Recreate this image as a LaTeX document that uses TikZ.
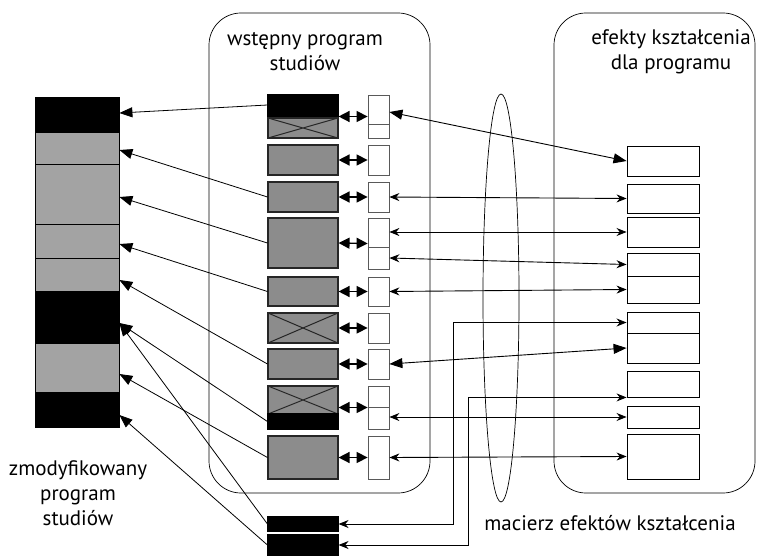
\documentclass[tikz,border=0pt]{standalone}
\usepackage{fontspec}
\setmainfont{PT Sans}
\usetikzlibrary{arrows.meta, positioning, shapes.geometric, calc}

\definecolor{stackgray}{gray}{0.64}
\definecolor{boxgray}{gray}{0.55}

\begin{document}
\begin{tikzpicture}[x=1pt, y=-1pt,
  stackbk/.style={draw, fill=black, minimum width=84pt, inner sep=0pt, line width=0.8pt},
  stackgr/.style={stackbk, fill=stackgray},
  prgbox/.style={draw=black!85, fill=boxgray, minimum width=70pt, inner sep=0pt, line width=1.1pt},
  prgbk/.style={prgbox, fill=black, draw=black},
  crossed/.style={path picture={
      \draw[line width=1pt] (path picture bounding box.south west) -- (path picture bounding box.north east)
            (path picture bounding box.north west) -- (path picture bounding box.south east);}},
  slot/.style={draw=black!65, fill=white, minimum width=21pt, inner sep=0pt, line width=0.8pt},
  outc/.style={draw, fill=white, minimum width=72pt, inner sep=0pt, line width=0.9pt},
  frame/.style={draw, rounded corners=32pt, line width=0.7pt, inner sep=0pt},
  lbl/.style={font=\fontsize{21}{25}\selectfont, align=center},
  toleft/.style={-{Triangle[length=13pt, width=10pt]}, line width=0.8pt},
  dbl/.style={{Triangle[length=11pt, width=11pt]}-{Triangle[length=11pt, width=11pt]}, line width=1.4pt},
  link/.style={{Stealth[length=10pt, width=8pt]}-{Stealth[length=10pt, width=8pt]}, line width=0.9pt},
  linkbig/.style={{Triangle[length=13pt, width=10pt]}-{Triangle[length=13pt, width=10pt]}, line width=0.9pt},
]
\useasboundingbox (0,0) rectangle (767,556);

% --- Frames and matrix ellipse ---
\node[frame, minimum width=221pt, minimum height=480pt] (wst) at (319.5,253) {};
\node[frame, minimum width=201pt, minimum height=480pt] (efk) at (654.5,253) {};
\node[draw, ellipse, line width=0.7pt, minimum width=36pt, minimum height=408pt, inner sep=0pt] (mac) at (501,298) {};

% --- Titles ---
\node[lbl] (twst) at (305,52) {wstępny program\\studiów};
\node[lbl] (tefk) at (671,52) {efekty kształcenia\\dla programu};
\node[lbl] (tzmo) at (78,493) {zmodyfikowany\\program\\studiów};
\node[lbl] (tmac) at (610,523) {macierz efektów kształcenia};

% --- Modified programme (left stack) ---
\node[stackbk, minimum height=35pt] (k1) at (77,114.5) {};
\node[stackgr, minimum height=32pt] (k2) at (77,148) {};
\node[stackgr, minimum height=60pt] (k3) at (77,194) {};
\node[stackgr, minimum height=34pt] (k4) at (77,241) {};
\node[stackgr, minimum height=33pt] (k5) at (77,274.5) {};
\node[stackbk, minimum height=52pt] (k6) at (77,317) {};
\node[stackgr, minimum height=49pt] (k7) at (77,367.5) {};
\node[stackbk, minimum height=35pt] (k8) at (77,409.5) {};

% --- Initial programme (middle column) ---
\node[prgbk, minimum height=23pt] (m1t) at (303,106.5) {};
\node[prgbox, crossed, minimum height=20pt] (m1) at (303,128) {};
\node[prgbox, minimum height=30pt] (m2) at (303,160) {};
\node[prgbox, minimum height=30pt] (m3) at (303,197) {};
\node[prgbox, minimum height=50pt] (m4) at (303,243) {};
\node[prgbox, minimum height=29pt] (m5) at (303,291.5) {};
\node[prgbox, crossed, minimum height=30pt] (m6) at (303,328) {};
\node[prgbox, minimum height=30pt] (m7) at (303,364) {};
\node[prgbox, crossed, minimum height=28pt] (m8) at (303,400) {};
\node[prgbk, minimum height=15pt] (m8b) at (303,421.5) {};
\node[prgbox, minimum height=43pt] (m9) at (303,457.5) {};
\node[prgbk, minimum height=14pt] (b1) at (303,524) {};
\node[prgbk, minimum height=20pt] (b2) at (303,545) {};

% --- Slots beside the programme ---
\node[slot, minimum height=43pt] (s1) at (378.5,116.5) {};
\node[slot, minimum height=30pt] (s2) at (378.5,160) {};
\node[slot, minimum height=30pt] (s3) at (378.5,197) {};
\node[slot, minimum height=51pt] (s4) at (378.5,243.5) {};
\node[slot, minimum height=29pt] (s5) at (378.5,291.5) {};
\node[slot, minimum height=30pt] (s6) at (378.5,328) {};
\node[slot, minimum height=30pt] (s7) at (378.5,364) {};
\node[slot, minimum height=43pt] (s8) at (378.5,407.5) {};
\node[slot, minimum height=43pt] (s9) at (378.5,457.5) {};
\draw[black!65, line width=0.8pt] (s1.west |- 0,124) -- (s1.east |- 0,124);
\draw[black!65, line width=0.8pt] (s4.west |- 0,247) -- (s4.east |- 0,247);
\draw[black!65, line width=0.8pt] (s8.west |- 0,407) -- (s8.east |- 0,407);

% --- Learning outcomes (right column) ---
\node[outc, minimum height=30pt] (r1) at (663,161) {};
\node[outc, minimum height=29pt] (r2) at (663,198.5) {};
\node[outc, minimum height=30pt] (r3) at (663,232) {};
\node[outc, minimum height=23pt] (r4) at (663,264.5) {};
\node[outc, minimum height=27pt] (r5) at (663,289.5) {};
\node[outc, minimum height=21pt] (r6) at (663,322.5) {};
\node[outc, minimum height=30pt] (r7) at (663,348) {};
\node[outc, minimum height=26pt] (r8) at (663,384) {};
\node[outc, minimum height=22pt] (r9) at (663,417) {};
\node[outc, minimum height=45pt] (r10) at (663,456.5) {};

% --- Programme <-> slot arrows ---
\draw[dbl] (s1.west -| m1t.east) -- (s1.west);
\draw[dbl] (m2.east) -- (s2.west);
\draw[dbl] (m3.east) -- (s3.west);
\draw[dbl] (m4.east) -- (s4.west);
\draw[dbl] (m5.east) -- (s5.west);
\draw[dbl] (m6.east) -- (s6.west);
\draw[dbl] (m7.east) -- (s7.west);
\draw[dbl] (s8.west -| m8.east) -- (s8.west);
\draw[dbl] (m9.east) -- (s9.west);

% --- Matrix links: slots <-> outcomes ---
\draw[linkbig] ([yshift=4.5pt]s1.east) -- (r1.west);
\draw[link] (s3.east) -- (r2.west);
\draw[link] ([yshift=11.5pt]s4.east) -- (r3.west);
\draw[link] ([yshift=-14.5pt]s4.east) -- (r4.west);
\draw[link] (s5.east) -- (r5.west);
\draw[link] (r6.west) -| ($(b1.east)+(115,0)$) -- (b1.east);
\draw[linkbig] (s7.east) -- (r7.west);
\draw[link] (r8.south west) -| ($(b2.east)+(130,0)$) -- (b2.east);
\draw[link] ([yshift=-9.5pt]s8.east) -- (r9.west);
\draw[link] (s9.east) -- (r10.west);

% --- Into the modified programme ---
\draw[toleft] ([yshift=1.5pt]m1t.west) -- ([yshift=1.5pt]k1.east);
\draw[toleft] (m3.west) -- ([yshift=-2pt]k2.east);
\draw[toleft] (m4.west) -- ([yshift=-3pt]k3.east);
\draw[toleft] (m5.west) -- ([yshift=-3pt]k4.east);
\draw[toleft] (m7.west) -- ([yshift=-5.5pt]k5.east);
\draw[toleft] (m8b.west) -- ([yshift=-6pt]k6.east);
\draw[toleft] (b1.west) -- ([yshift=-6pt]k6.east);
\draw[toleft] (m9.west) -- ([yshift=-6.5pt]k7.east);
\draw[toleft] (b2.west) -- ([yshift=-5.5pt]k8.east);

\end{tikzpicture}
\end{document}
